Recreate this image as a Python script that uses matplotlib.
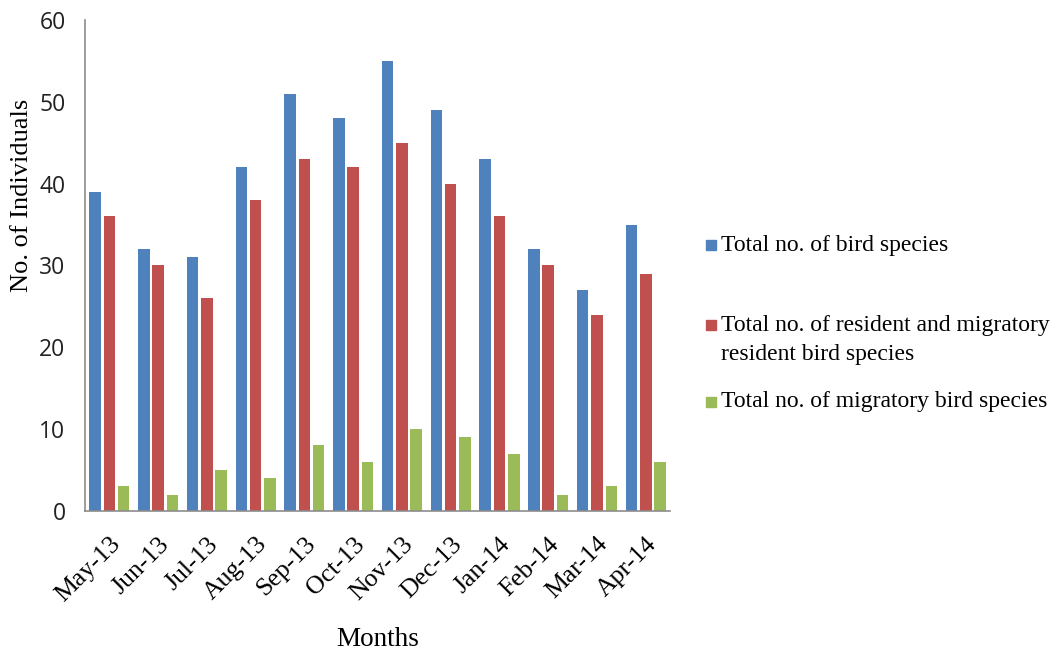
import numpy as np
import matplotlib.pyplot as plt
from matplotlib.patches import Rectangle

months = ['May-13', 'Jun-13', 'Jul-13', 'Aug-13', 'Sep-13', 'Oct-13',
          'Nov-13', 'Dec-13', 'Jan-14', 'Feb-14', 'Mar-14', 'Apr-14']
total = [39, 32, 31, 42, 51, 48, 55, 49, 43, 32, 27, 35]
resident = [36, 30, 26, 38, 43, 42, 45, 40, 36, 30, 24, 29]
migratory = [3, 2, 5, 4, 8, 6, 10, 9, 7, 2, 3, 6]

names = ['Total no. of bird species',
         'Total no. of resident and migratory\nresident bird species',
         'Total no. of migratory bird species']
colors = ['#4F81BD', '#C0504D', '#9BBB59']

serif = 'Liberation Serif'

fig = plt.figure(figsize=(10.57, 6.53), dpi=100)
ax = fig.add_axes([0.0804, 0.2175, 0.5536, 0.752])

x = np.arange(len(months))
step = 0.293
width = 0.236
for i, (vals, c) in enumerate(zip([total, resident, migratory], colors)):
    ax.bar(x + (i - 1) * step, vals, width, color=c, zorder=2)

ax.set_xlim(-0.5, len(months) - 0.5)
ax.set_ylim(0, 60)
ax.set_yticks(range(0, 61, 10))
ax.tick_params(length=0)
for lab in ax.get_yticklabels():
    lab.set_fontfamily('Open Sans')
    lab.set_fontsize(16.5)
    lab.set_color('#222222')
ax.tick_params(axis='y', pad=14)

ax.set_xticks(x)
ax.set_xticklabels(months, rotation=45, ha='right', rotation_mode='anchor',
                   fontfamily=serif, fontsize=18.5)
ax.tick_params(axis='x', pad=16)

for s in ['top', 'right']:
    ax.spines[s].set_visible(False)
for s in ['left', 'bottom']:
    ax.spines[s].set_color('#8c8c8c')
    ax.spines[s].set_linewidth(1.2)

fig.text(0.021, 1 - 195 / 653, 'No. of Individuals', rotation=90, ha='center', va='center',
         fontfamily=serif, fontsize=19)
fig.text(378 / 1057, 1 - 646 / 653, 'Months', ha='center', va='baseline',
         fontfamily=serif, fontsize=19.5)

# legend entries drawn by hand to keep the uneven spacing
legend_y = [245, 340, 402]
for y, name, c in zip(legend_y, names, colors):
    yf = 1 - y / 653
    fig.add_artist(Rectangle((706 / 1057, yf - 5 / 653 if '\n' not in name else yf + 10 / 653),
                             10 / 1057, 10 / 653, color=c, transform=fig.transFigure))
    fig.text(721 / 1057, yf, name, ha='left', va='center', fontfamily=serif,
             fontsize=17, linespacing=1.45)

fig.savefig('out.png', dpi=100)
